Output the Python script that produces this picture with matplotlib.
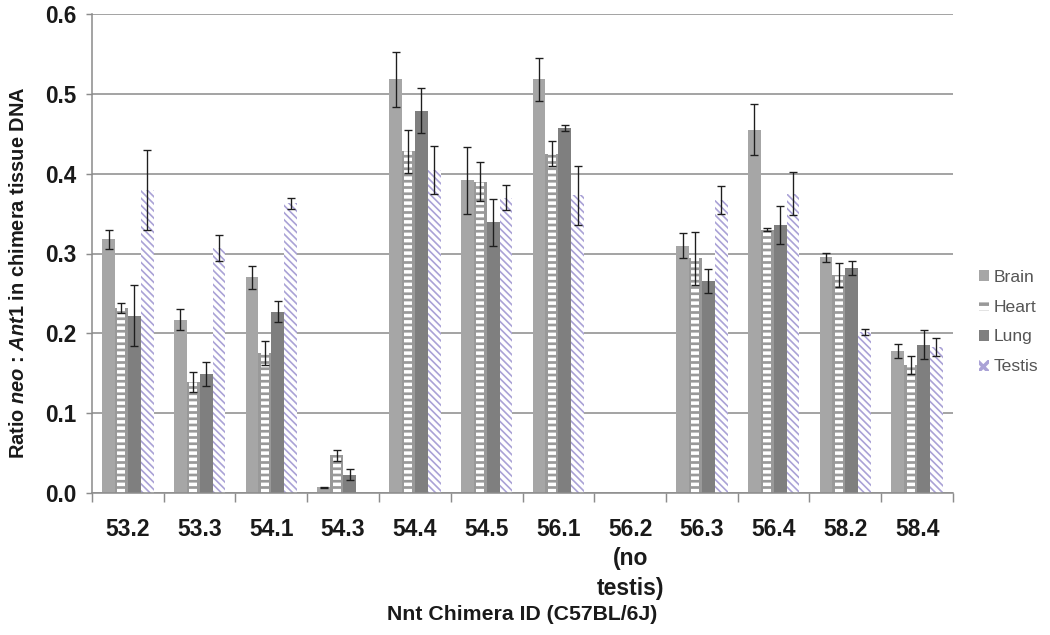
#!/usr/bin/env python3
import numpy as np
import matplotlib
matplotlib.use('Agg')
import matplotlib.pyplot as plt
from matplotlib.patches import Patch

# chimera IDs and per-tissue ratios
chimeras = ['53.2', '53.3', '54.1', '54.3', '54.4', '54.5', '56.1',
            '56.2\n(no\ntestis)', '56.3', '56.4', '58.2', '58.4']
tissues = ['Brain', 'Heart', 'Lung', 'Testis']

brain = [0.318, 0.217, 0.270, 0.007, 0.518, 0.392, 0.518, 0.0, 0.310, 0.455, 0.295, 0.178]
brain_err = [0.012, 0.013, 0.014, 0.001, 0.034, 0.042, 0.027, 0.0, 0.016, 0.032, 0.006, 0.009]
heart = [0.232, 0.139, 0.175, 0.047, 0.428, 0.390, 0.425, 0.0, 0.294, 0.330, 0.273, 0.160]
heart_err = [0.006, 0.013, 0.015, 0.007, 0.027, 0.024, 0.016, 0.0, 0.033, 0.002, 0.015, 0.011]
lung = [0.222, 0.149, 0.227, 0.023, 0.479, 0.339, 0.457, 0.0, 0.265, 0.336, 0.282, 0.186]
lung_err = [0.038, 0.015, 0.013, 0.007, 0.028, 0.029, 0.004, 0.0, 0.015, 0.024, 0.009, 0.018]
testis = [0.380, 0.307, 0.363, 0.0, 0.405, 0.370, 0.373, 0.0, 0.367, 0.375, 0.202, 0.183]
testis_err = [0.050, 0.016, 0.007, 0.0, 0.030, 0.016, 0.037, 0.0, 0.018, 0.027, 0.004, 0.011]

c_brain = '#a6a6a6'
c_heart = '#999999'
c_lung = '#7f7f7f'
c_testis = '#aaa2d6'
c_axis = '#8c8c8c'

plt.rcParams.update({
    'font.family': 'Liberation Sans',
    'mathtext.fontset': 'custom',
    'mathtext.rm': 'Liberation Sans:bold',
    'mathtext.it': 'Liberation Sans:italic:bold',
    'mathtext.bf': 'Liberation Sans:bold',
    'hatch.linewidth': 1.7,
})


def set_hatch_lw(bars, lw):
    for p in bars:
        if hasattr(p, 'set_hatch_linewidth'):
            p.set_hatch_linewidth(lw)


fig = plt.figure(figsize=(7.0, 635 / 150), dpi=150)
ax = fig.add_axes([92 / 1050, 1 - 493 / 635, (953 - 92) / 1050, (493 - 14) / 635])

x = np.arange(len(chimeras))
w = 0.18
offs = np.array([-1.5, -0.5, 0.5, 1.5]) * w

ax.bar(x + offs[0], brain, w, color=c_brain, linewidth=0, zorder=2)

ax.bar(x + offs[1], heart, w, color=c_heart, linewidth=0, zorder=2)
hb = ax.bar(x + offs[1], heart, w * 0.62, facecolor='none', edgecolor='white',
            hatch='----', linewidth=0, zorder=2.1)
set_hatch_lw(hb, 1.7)

ax.bar(x + offs[2], lung, w, color=c_lung, linewidth=0, zorder=2)

tb = ax.bar(x + offs[3], testis, w, facecolor='white', edgecolor=c_testis,
            hatch='\\' * 7, linewidth=0, zorder=2)
set_hatch_lw(tb, 0.8)

for off, vals, errs in zip(offs, [brain, heart, lung, testis],
                           [brain_err, heart_err, lung_err, testis_err]):
    vals = np.array(vals)
    errs = np.array(errs)
    m = vals > 0
    ax.errorbar((x + off)[m], vals[m], yerr=errs[m], fmt='none',
                ecolor='#1e1e1e', elinewidth=0.65, capsize=1.7, capthick=0.65,
                zorder=3)

ax.set_xlim(-0.5, len(chimeras) - 0.5)
ax.set_ylim(0, 0.6)
ax.set_yticks(np.arange(0, 0.61, 0.1))
ax.set_yticklabels(['%.1f' % v for v in np.arange(0, 0.61, 0.1)],
                   fontsize=10.8, fontweight='bold', color='#1a1a1a')
ax.set_xticks(x)
ax.set_xticklabels(chimeras, fontsize=11, fontweight='bold', color='#1a1a1a')
for lbl in ax.get_xticklabels():
    lbl.set_linespacing(1.36)
ax.set_xticks(np.arange(-0.5, len(chimeras)), minor=True)
ax.tick_params(axis='x', which='major', length=0, pad=12)
ax.tick_params(axis='x', which='minor', length=4.3, width=0.7, color=c_axis)
ax.tick_params(axis='y', length=2.9, width=0.7, color=c_axis, pad=4.5)

ax.yaxis.grid(True, color=c_axis, linewidth=0.75)
ax.set_axisbelow(True)
for s in ['top', 'right']:
    ax.spines[s].set_visible(False)
for s in ['left', 'bottom']:
    ax.spines[s].set_color(c_axis)
    ax.spines[s].set_linewidth(0.75)

ax.set_ylabel(r'Ratio $\mathit{neo}$ : $\mathit{Ant1}$ in chimera tissue DNA',
              fontsize=9.6, fontweight='bold', color='#1a1a1a')
ax.yaxis.set_label_coords(-0.074, 0.46)
ax.set_xlabel('Nnt Chimera ID (C57BL/6J)', fontsize=10.2, fontweight='bold',
              color='#1a1a1a')
ax.xaxis.set_label_coords(0.5, -0.234)

handles = [
    Patch(facecolor=c_brain, linewidth=0),
    Patch(facecolor='white', edgecolor=c_heart, hatch='---', linewidth=0),
    Patch(facecolor=c_lung, linewidth=0),
    Patch(facecolor='white', edgecolor=c_testis, hatch='xxx', linewidth=0),
]
leg = fig.legend(handles, tissues, loc='center left',
                 bbox_to_anchor=(0.917, 0.493), frameon=False, fontsize=8.4,
                 handlelength=0.6, handleheight=0.6, handletextpad=0.25,
                 labelspacing=0.85, labelcolor='#555555')

fig.savefig('out.png', dpi=150)
